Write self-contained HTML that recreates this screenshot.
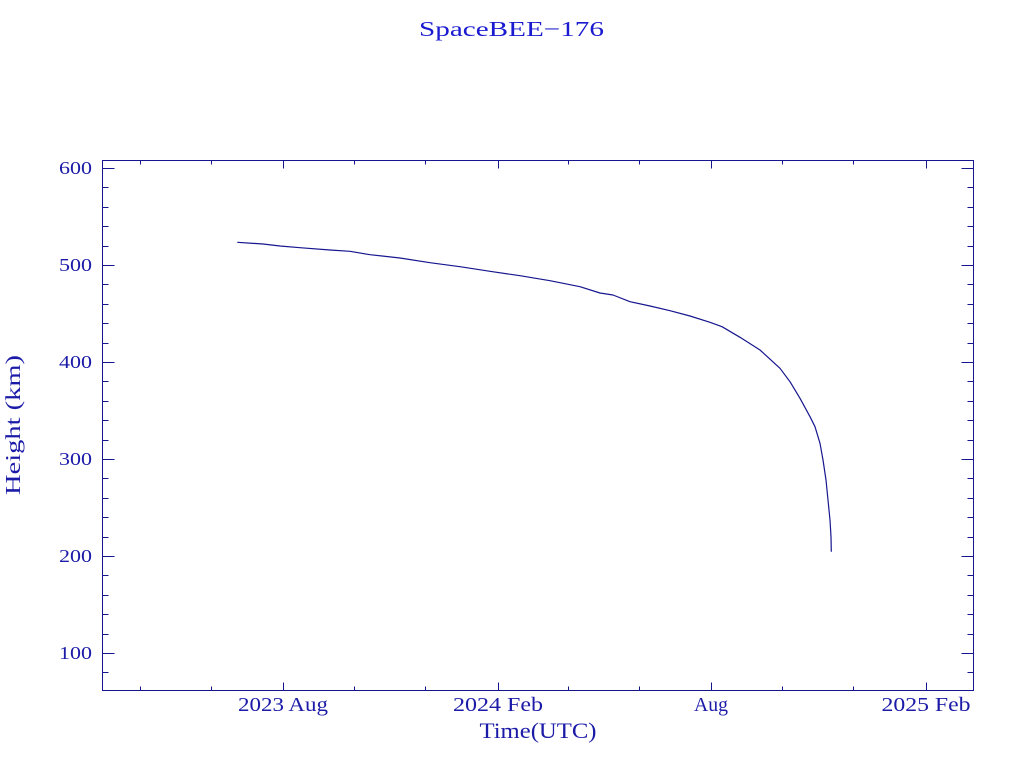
<!DOCTYPE html>
<html>
<head>
<meta charset="utf-8">
<style>
html,body{margin:0;padding:0;background:#fff;}
svg{display:block;}
text{font-family:"Liberation Serif","DejaVu Serif",serif;fill:#1b1ba8;}
</style>
</head>
<body>
<svg width="1024" height="768" viewBox="0 0 1024 768" xmlns="http://www.w3.org/2000/svg">
<rect x="0" y="0" width="1024" height="768" fill="#fff"/>
<!-- title -->
<text x="419" y="36" font-size="21.5" textLength="185" lengthAdjust="spacingAndGlyphs" style="fill:#1a1ad0">SpaceBEE−176</text>

<!-- frame -->
<rect x="102.5" y="160.5" width="871" height="530" fill="none" stroke="#16168f" stroke-width="1"/>

<g stroke="#16168f" stroke-width="1" fill="none">
<path d="M102.5 168.5H114.5 M102.5 265.5H114.5 M102.5 362.5H114.5 M102.5 459.5H114.5 M102.5 556.5H114.5 M102.5 653.5H114.5"/>
<path d="M973.5 168.5H961.5 M973.5 265.5H961.5 M973.5 362.5H961.5 M973.5 459.5H961.5 M973.5 556.5H961.5 M973.5 653.5H961.5"/>
<path d="M102.5 187.5H108.5 M102.5 207.5H108.5 M102.5 226.5H108.5 M102.5 246.5H108.5
M102.5 284.5H108.5 M102.5 304.5H108.5 M102.5 323.5H108.5 M102.5 343.5H108.5
M102.5 381.5H108.5 M102.5 401.5H108.5 M102.5 420.5H108.5 M102.5 440.5H108.5
M102.5 478.5H108.5 M102.5 498.5H108.5 M102.5 517.5H108.5 M102.5 537.5H108.5
M102.5 575.5H108.5 M102.5 595.5H108.5 M102.5 614.5H108.5 M102.5 634.5H108.5
M102.5 672.5H108.5"/>
<path d="M973.5 187.5H967.5 M973.5 207.5H967.5 M973.5 226.5H967.5 M973.5 246.5H967.5
M973.5 284.5H967.5 M973.5 304.5H967.5 M973.5 323.5H967.5 M973.5 343.5H967.5
M973.5 381.5H967.5 M973.5 401.5H967.5 M973.5 420.5H967.5 M973.5 440.5H967.5
M973.5 478.5H967.5 M973.5 498.5H967.5 M973.5 517.5H967.5 M973.5 537.5H967.5
M973.5 575.5H967.5 M973.5 595.5H967.5 M973.5 614.5H967.5 M973.5 634.5H967.5
M973.5 672.5H967.5"/>
<path d="M283.5 690.5V682.5 M498.5 690.5V682.5 M711.5 690.5V682.5 M926.5 690.5V682.5"/>
<path d="M283.5 160.5V168.5 M498.5 160.5V168.5 M711.5 160.5V168.5 M926.5 160.5V168.5"/>
<path d="M140.5 690.5V686.5 M211.5 690.5V686.5 M354.5 690.5V686.5 M425.5 690.5V686.5 M568.5 690.5V686.5 M639.5 690.5V686.5 M782.5 690.5V686.5 M853.5 690.5V686.5"/>
<path d="M140.5 160.5V164.5 M211.5 160.5V164.5 M354.5 160.5V164.5 M425.5 160.5V164.5 M568.5 160.5V164.5 M639.5 160.5V164.5 M782.5 160.5V164.5 M853.5 160.5V164.5"/>
</g>

<!-- Y tick labels -->
<g font-size="18">
<text x="59" y="174" textLength="33" lengthAdjust="spacingAndGlyphs">600</text>
<text x="59" y="271" textLength="33" lengthAdjust="spacingAndGlyphs">500</text>
<text x="59" y="368" textLength="33" lengthAdjust="spacingAndGlyphs">400</text>
<text x="59" y="465" textLength="33" lengthAdjust="spacingAndGlyphs">300</text>
<text x="59" y="562" textLength="33" lengthAdjust="spacingAndGlyphs">200</text>
<text x="59" y="659" textLength="33" lengthAdjust="spacingAndGlyphs">100</text>
</g>

<!-- X tick labels -->
<g font-size="19.5">
<text x="238" y="711" textLength="90" lengthAdjust="spacingAndGlyphs">2023 Aug</text>
<text x="453" y="711" textLength="90" lengthAdjust="spacingAndGlyphs">2024 Feb</text>
<text x="694" y="711" textLength="34" lengthAdjust="spacingAndGlyphs">Aug</text>
<text x="881.5" y="711" textLength="89" lengthAdjust="spacingAndGlyphs">2025 Feb</text>
</g>

<!-- axis titles -->
<text x="479.5" y="738" font-size="22" textLength="117" lengthAdjust="spacingAndGlyphs">Time(UTC)</text>
<text transform="translate(20,495) rotate(-90)" x="0" y="0" font-size="21" textLength="140" lengthAdjust="spacingAndGlyphs">Height (km)</text>

<!-- data curve -->
<polyline fill="none" stroke="#16168f" stroke-width="1.2" stroke-linejoin="round"
points="237.3,242.3 263,244 280,246 300,247.7 330,250 350,251.3 370,254.7 400,258 430,262.7 460,266.7 490,271.3 520,275.7 550,280.7 580,286.7 600,293 613,295 630,301.7 650,306 670,310.7 690,316 710,322.3 722,326.7 740,337.3 760,350 780,368.3 790,381.7 800,398.3 810,416.7 815,426.7 820,443.3 823,460 826,480 828,500 830,520 831,536.7 831.3,551.7"/>
</svg>
</body>
</html>
